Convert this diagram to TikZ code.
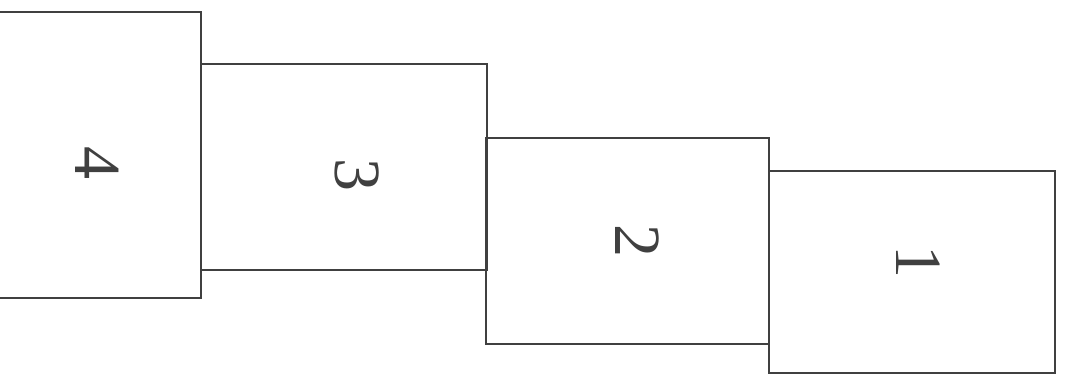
\documentclass[tikz,border=0pt]{standalone}
\usepackage{fontspec}
\setmainfont{Liberation Serif}
\begin{document}
\begin{tikzpicture}[x=1pt,y=-1pt,
  panel/.style={draw=black!75, line width=1.6pt, fill=none, inner sep=0pt, outer sep=0pt, rectangle},
  digit/.style={text=black!75, rotate=-90, inner sep=0pt, font=\fontsize{66}{70}\selectfont}]
\useasboundingbox (0,0) rectangle (1071,374);
\node[panel, minimum width=206pt, minimum height=286pt] (b4) at (98,155) {};
\node[panel, minimum width=286pt, minimum height=206pt] (b3) at (344,167) {};
\node[panel, minimum width=283pt, minimum height=206pt] (b2) at (627.5,241) {};
\node[panel, minimum width=286pt, minimum height=202pt] (b1) at (912,272) {};
\node[digit] (t4) at (97,163) {4};
\node[digit] (t3) at (357,175) {3};
\node[digit] (t2) at (637,241) {2};
\node[digit] (t1) at (918,262) {1};
\end{tikzpicture}
\end{document}
